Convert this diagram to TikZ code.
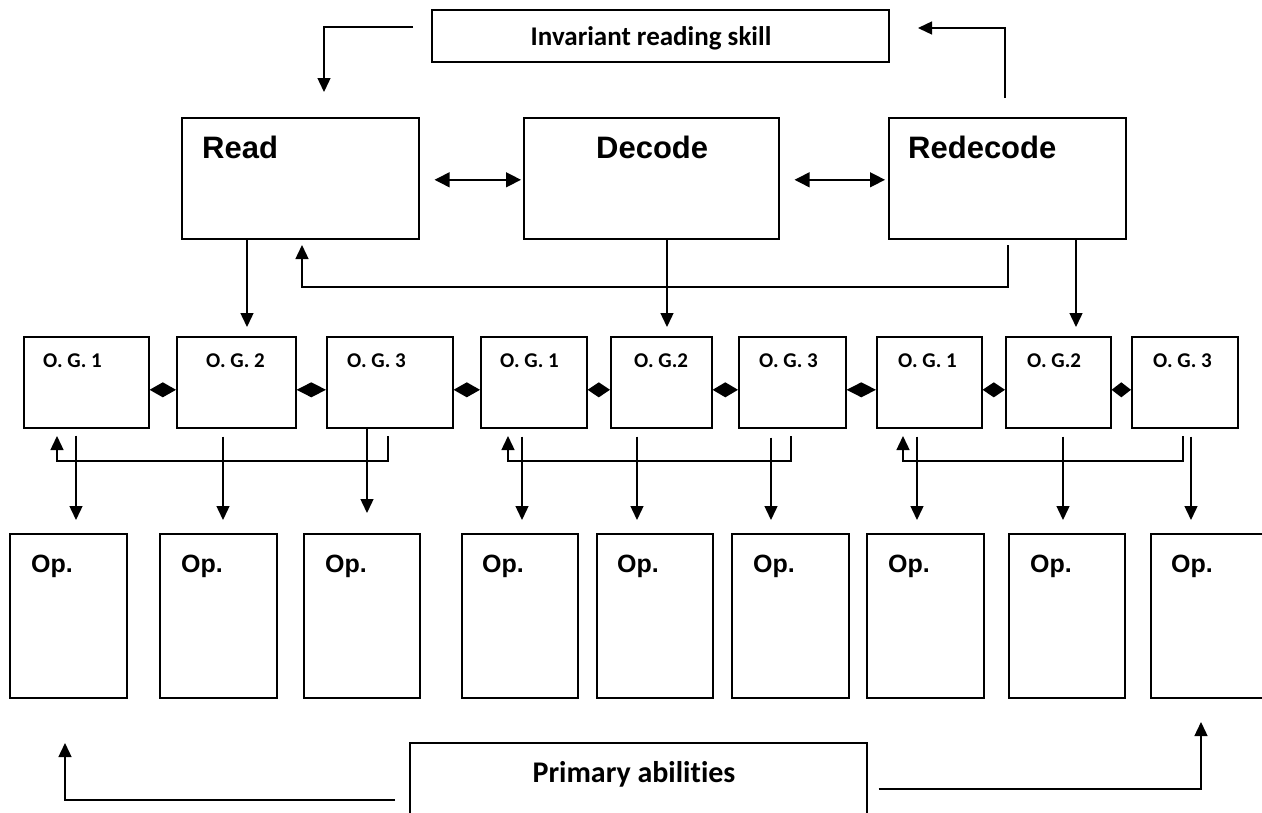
\documentclass[tikz,border=0pt]{standalone}
\usepackage{fontspec}
\newfontfamily\calfont[Ligatures=NoCommon]{Carlito}
\newfontfamily\arialfont{Liberation Sans}
\usetikzlibrary{arrows.meta,calc}
\begin{document}
\begin{tikzpicture}[x=1pt,y=-1pt,
  box/.style={draw, line width=1.6pt, inner sep=0pt, anchor=north west},
  arr/.style={line width=1.4pt, -{Triangle[length=14pt,width=13pt]}},
  dbl/.style={line width=1.4pt, {Triangle[length=15pt,width=15pt]}-{Triangle[length=15pt,width=15pt]}},
  bigt/.style={anchor=base west, inner sep=0pt, font=\arialfont\bfseries\fontsize{31}{31}\selectfont},
  opt/.style={anchor=base west, inner sep=0pt, font=\arialfont\bfseries\fontsize{25}{25}\selectfont},
  ogt/.style={anchor=base west, inner sep=0pt, font=\calfont\bfseries\fontsize{21}{21}\selectfont},
  calt/.style={anchor=base, inner sep=0pt, font=\calfont\bfseries\fontsize{27}{27}\selectfont},
  calp/.style={anchor=base, inner sep=0pt, font=\calfont\bfseries\fontsize{30}{30}\selectfont}
]
\useasboundingbox (0,0) rectangle (1262,812);
\clip (0,0) rectangle (1262,812);

% top box
\node[box, minimum width=457pt, minimum height=52pt] (inv) at (431,9) {};
\node[calt] (invt) at (651,45) {Invariant reading skill};
\coordinate (a1s) at (413,27);
\coordinate (a1e) at (324,92);
\draw[arr] (a1s) -| (a1e);
\coordinate (a2s) at (1005,98);
\coordinate (a2e) at (918,28);
\draw[arr] (a2s) |- (a2e);

% main boxes
\node[box, minimum width=237pt, minimum height=121pt] (read) at (181,117) {};
\node[box, minimum width=255pt, minimum height=121pt] (dec) at (523,117) {};
\node[box, minimum width=237pt, minimum height=121pt] (red) at (888,117) {};
\node[bigt] (readt) at (202,158) {Read};
\node[bigt] (dect) at (596,158) {Decode};
\node[bigt] (redt) at (908,158) {Redecode};
\draw[dbl] ([xshift=15pt,yshift=-1.5pt]read.east) -- ([xshift=-2pt,yshift=-1.5pt]dec.west);
\draw[dbl] ([xshift=15pt,yshift=-1.5pt]dec.east) -- ([xshift=-3pt,yshift=-1.5pt]red.west);

% feedback Redecode -> Read
\coordinate (fbs) at (1008,245);
\coordinate (fbm) at (302,287);
\coordinate (fbe) at (302,245);
\draw[arr] (fbs) |- (fbm) -- (fbe);

% O.G. boxes
\foreach \n/\x/\w in {oa/23/125, ob/176/119, oc/326/126, od/480/106, oe/610/101, of/738/107, og/876/105, oh/1005/105, oi/1131/106}
  \node[box, minimum width=\w pt, minimum height=91pt] (\n) at (\x,336) {};
\node[ogt] (oat) at (43,367) {O. G. 1};
\node[ogt] (obt) at (206,367) {O. G. 2};
\node[ogt] (oct) at (347,367) {O. G. 3};
\node[ogt] (odt) at (500,367) {O. G. 1};
\node[ogt] (oet) at (634,367) {O. G.2};
\node[ogt] (oft) at (759,367) {O. G. 3};
\node[ogt] (ogt1) at (898,367) {O. G. 1};
\node[ogt] (oht) at (1027,367) {O. G.2};
\node[ogt] (oit) at (1153,367) {O. G. 3};

% down arrows from main boxes
\coordinate (rd) at (247,327);
\coordinate (dd) at (667,327);
\coordinate (rdd) at (1076,327);
\draw[arr] (read.south -| rd) -- (rd);
\draw[arr] (dec.south -| dd) -- (dd);
\draw[arr] (red.south -| rdd) -- (rdd);

% double-headed diamond connectors between O.G. boxes
\foreach \a/\b in {oa/ob, ob/oc, oc/od, od/oe, oe/of, of/og, og/oh, oh/oi}
  \fill let \p1=([yshift=-7.5pt]\a.east), \p2=([yshift=-7.5pt]\b.west) in
    (\p1) -- ({(\x1+\x2)/2},{\y1+7.5pt}) -- (\p2) -- ({(\x1+\x2)/2},{\y1-7.5pt}) -- cycle;

% group feedback loops
\coordinate (u1s) at (388,436); \coordinate (u1b) at (57,461); \coordinate (u1e) at (57,436);
\draw[arr] (u1s) |- (u1b) -- (u1e);
\coordinate (u2s) at (791,436); \coordinate (u2b) at (508,461); \coordinate (u2e) at (508,436);
\draw[arr] (u2s) |- (u2b) -- (u2e);
\coordinate (u3s) at (1183,436); \coordinate (u3b) at (903,461); \coordinate (u3e) at (903,436);
\draw[arr] (u3s) |- (u3b) -- (u3e);

% Op boxes
\foreach \n/\x/\w in {pa/9/117, pb/159/117, pc/303/116, pd/461/116, pe/596/116, pf/731/117, pg/866/117, ph/1008/116, pi/1150/130}
  \node[box, minimum width=\w pt, minimum height=164pt] (\n) at (\x,533) {};
\foreach \n/\x in {pat/31, pbt/181, pct/325, pdt/482, pet/617, pft/753, pgt/888, pht/1030, pit/1171}
  \node[opt] (\n) at (\x,572) {Op.};

% down arrows O.G. -> Op
\coordinate (e1) at (76,520);
\coordinate (e2) at (223,520);
\coordinate (e3) at (367,513);
\coordinate (e4) at (522,520);
\coordinate (e5) at (637,520);
\coordinate (e6) at (771,520);
\coordinate (e7) at (917,520);
\coordinate (e8) at (1063,520);
\coordinate (e9) at (1191,520);
\draw[arr] (oa.south -| e1) ++(0,7) -- (e1);
\draw[arr] (ob.south -| e2) ++(0,8) -- (e2);
\draw[arr] (oc.south -| e3) -- (e3);
\draw[arr] (od.south -| e4) ++(0,8) -- (e4);
\draw[arr] (oe.south -| e5) ++(0,8) -- (e5);
\draw[arr] (of.south -| e6) ++(0,9) -- (e6);
\draw[arr] (og.south -| e7) ++(0,8) -- (e7);
\draw[arr] (oh.south -| e8) ++(0,8) -- (e8);
\draw[arr] (oi.south -| e9) ++(0,8) -- (e9);

% bottom
\node[box, minimum width=457pt, minimum height=100pt] (prim) at (409,742) {};
\node[calp] (primt) at (634,782) {Primary abilities};
\coordinate (p1b) at (65,800); \coordinate (p1e) at (65,743);
\draw[arr] ([xshift=-14pt]prim.west |- p1b) -- (p1b) -- (p1e);
\coordinate (p2b) at (1201,789); \coordinate (p2e) at (1201,722);
\draw[arr] ([xshift=11pt]prim.east |- p2b) -- (p2b) -- (p2e);
\end{tikzpicture}
\end{document}
